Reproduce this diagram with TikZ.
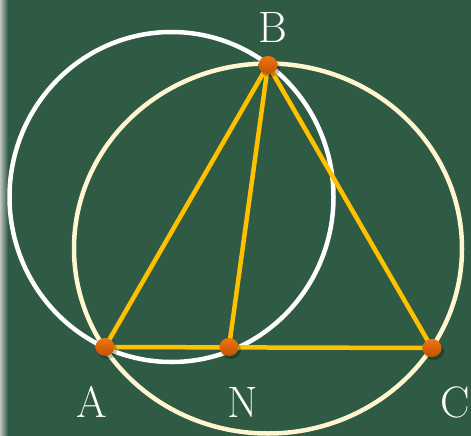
\documentclass[tikz,border=0pt]{standalone}
\usepackage{tikz}
\usetikzlibrary{calc, shapes.geometric}
\definecolor{board}{RGB}{47,90,67}
\definecolor{boardedge}{RGB}{190,196,192}
\definecolor{cream}{RGB}{255,246,208}
\definecolor{gold}{RGB}{255,192,0}
\definecolor{dottop}{RGB}{236,118,16}
\definecolor{dotbot}{RGB}{196,82,0}

\tikzset{
  side/.style={draw=gold, line width=4.5pt, line cap=round},
  circ/.style={line width=4.5pt},
  dot/.style={ellipse, inner sep=0pt, minimum width=19pt, minimum height=18pt,
    top color=dottop, bottom color=dotbot, draw=none},
  lbl/.style={text=white, anchor=base, font=\fontsize{44}{44}\selectfont}
}

\begin{document}
\begin{tikzpicture}[x=1pt,y=-1pt]
    % board
    \fill[board] (0,0) rectangle (471,436);
    \shade[left color=boardedge, right color=board] (0,0) rectangle (8,436);
    \useasboundingbox (0,0) rectangle (471,436);

    % points
    \coordinate (a) at (105,347);
    \coordinate (n) at (229,347);
    \coordinate (b) at (268,65);
    \coordinate (c) at (432,348);

    % circles
    \draw[circ, white] (171.5,197) ellipse [x radius=162, y radius=165];
    \draw[circ, cream] (268,248.5) ellipse [x radius=194, y radius=185];

    % triangle and segment BN
    \draw[side] (a) -- (b) -- (c) -- cycle;
    \draw[side] (b) -- (n);

    % shadows and dots
    \foreach \p in {a,n,b,c}
      \fill[black, opacity=0.25] ($(\p)+(2,3)$) ellipse [x radius=10, y radius=9];
    \node[dot] (A) at (a) {};
    \node[dot] (N) at (n) {};
    \node[dot] (B) at (b) {};
    \node[dot] (C) at (c) {};

    % labels
    \node[lbl] (labA) at (92,417) {A};
    \node[lbl] (labN) at (243,417) {N};
    \node[lbl] (labC) at (455,417) {C};
    \node[lbl] (labB) at (273,43) {B};
  \end{tikzpicture}
\end{document}
